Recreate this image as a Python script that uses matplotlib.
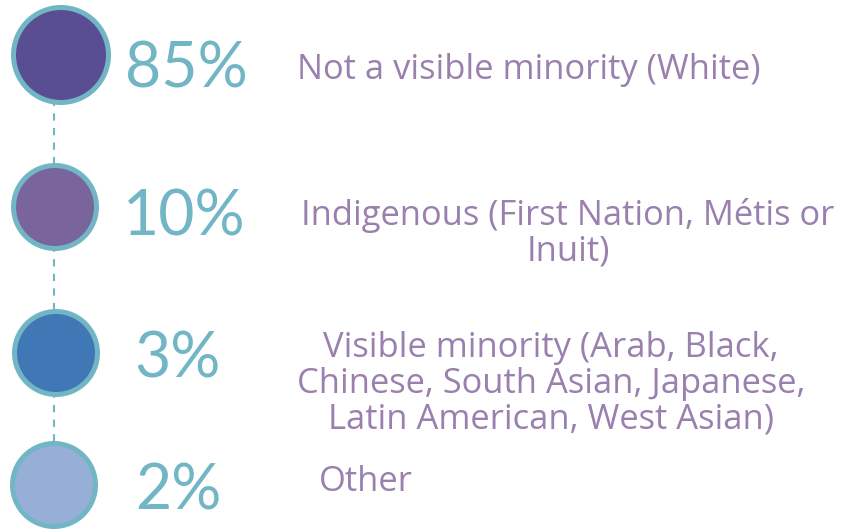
import matplotlib
matplotlib.use("Agg")
import matplotlib.pyplot as plt
from matplotlib.patches import Circle

# data ------------------------------------------------------------------------
shares = [85, 10, 3, 2]
groups = [
    "Not a visible minority (White)",
    "Indigenous (First Nation, Métis or\nInuit)",
    "Visible minority (Arab, Black,\nChinese, South Asian, Japanese,\nLatin American, West Asian)",
    "Other",
]
fills = ["#5a4e93", "#7a649c", "#3f78b4", "#97aed6"]

# layout (pixels, y down) -----------------------------------------------------
circ_x = [61, 55, 56, 54]
circ_y = [55, 207, 353, 485]
circ_r = [50, 44, 44, 44]
pct_x = [186, 184, 178, 178]
pct_base = [87, 235, 378, 510]
lab_x = [529, 568, 551, 319]
lab_base = [79, 260, 428, 491]   # baseline of the last line
lab_ha = ["center", "center", "center", "left"]

teal = "#72b6c6"
lilac = "#9a80ae"
ring = 5

fig = plt.figure(figsize=(8.44, 5.30), dpi=100)
ax = fig.add_axes([0, 0, 1, 1])
ax.set_xlim(0, 844)
ax.set_ylim(530, 0)
ax.set_aspect("equal")
ax.axis("off")

ax.plot([54, 54], [circ_y[0], circ_y[-1]], color=teal, lw=1.5,
        linestyle=(0, (3.5, 3.5)), zorder=1)

for i, v in enumerate(shares):
    ax.add_patch(Circle((circ_x[i], circ_y[i]), circ_r[i] - ring / 2,
                        facecolor=fills[i], edgecolor=teal,
                        lw=ring * 0.72, zorder=2))
    ax.text(pct_x[i], pct_base[i], f"{v}%", family="Lato", fontsize=45,
            color=teal, ha="center", va="baseline")
    ax.text(lab_x[i], lab_base[i], groups[i], family="Open Sans", fontsize=24.8,
            color=lilac, ha=lab_ha[i], va="baseline", multialignment="center",
            linespacing=1.05)

fig.savefig("out.png", dpi=100)
